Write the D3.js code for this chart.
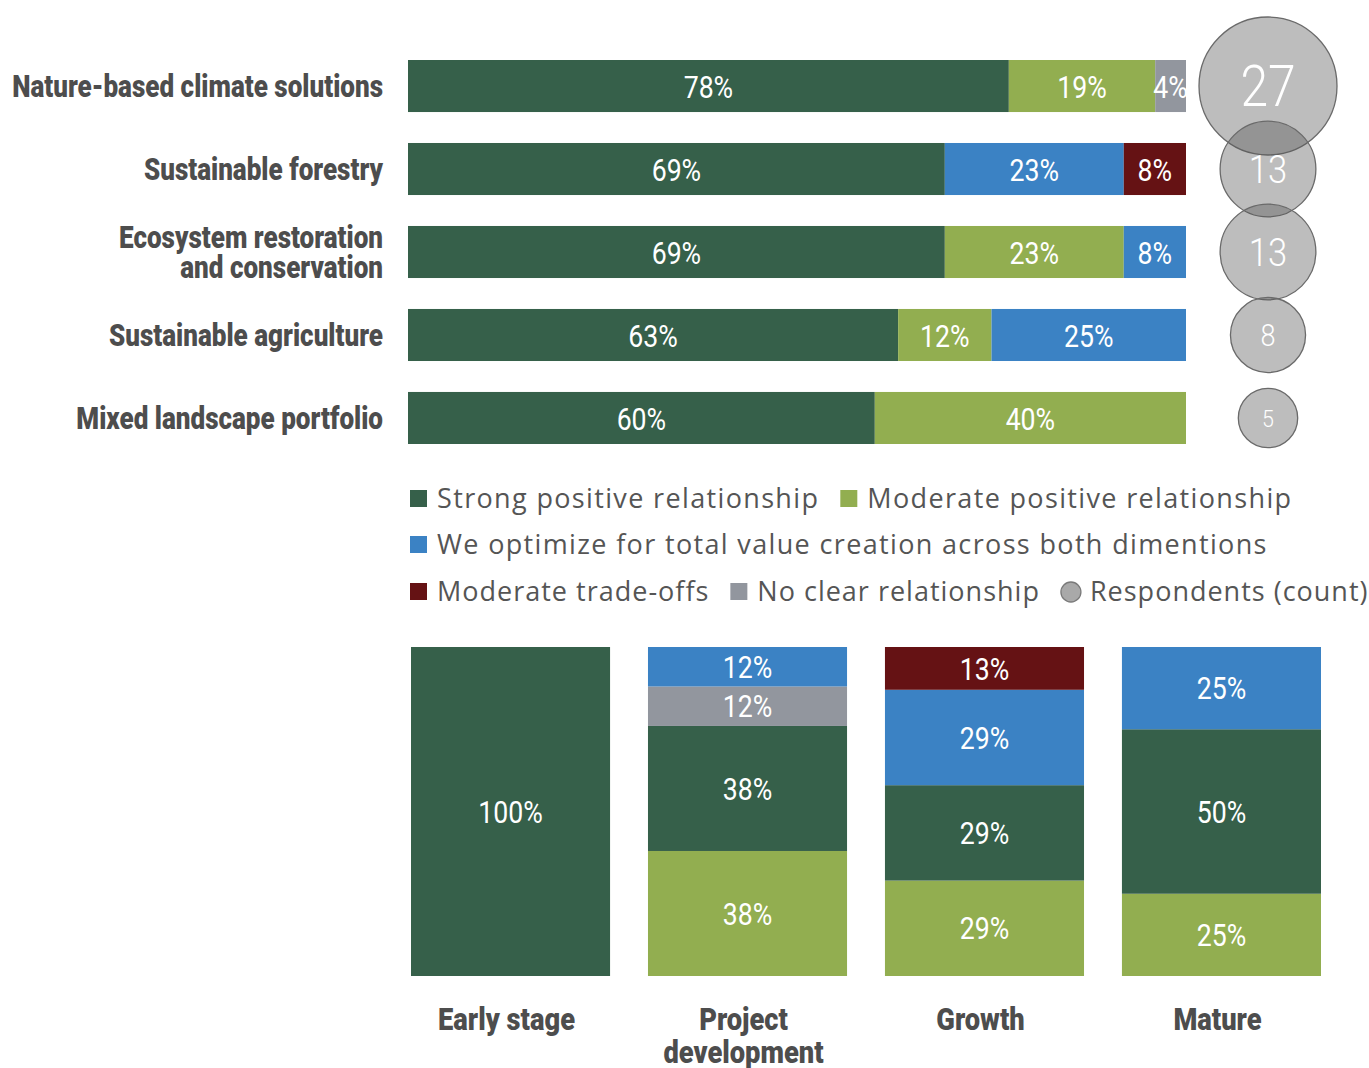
<!DOCTYPE html>
<html><head><meta charset="utf-8">
<script src="https://cdn.jsdelivr.net/npm/d3@7"></script>
<style>body{margin:0;background:#fff}</style>
</head><body>
<svg id="c" width="1369" height="1068"></svg>
<script>
const categories = ["Nature-based climate solutions","Sustainable forestry","Ecosystem restoration\nand conservation","Sustainable agriculture","Mixed landscape portfolio"];
const strong   = [78,69,69,63,60];
const moderate = [19,0,23,12,40];
const optimize = [0,23,8,25,0];
const tradeoff = [0,8,0,0,0];
const noclear  = [4,0,0,0,0];
const respondents = [27,13,13,8,5];

const stages = ["Early stage","Project\ndevelopment","Growth","Mature"];
const stageStrong   = [100,38,29,50];
const stageModerate = [0,38,29,25];
const stageOptimize = [0,12,29,25];
const stageTradeoff = [0,0,13,0];
const stageNoclear  = [0,12,0,0];

const seriesNames = {strong:"Strong positive relationship",moderate:"Moderate positive relationship",optimize:"We optimize for total value creation across both dimentions",tradeoff:"Moderate trade-offs",noclear:"No clear relationship"};
const colors = {strong:"#36604a",moderate:"#92ae50",optimize:"#3b82c4",tradeoff:"#651214",noclear:"#92969e"};

const svg = d3.select("#c");
const labelFont = "Roboto, 'Noto Sans', sans-serif";
const textGray = "#4d4d4d";

function condense(node, f){
  const tsp = node.querySelectorAll("tspan");
  const targets = tsp.length ? Array.from(tsp) : [node];
  targets.forEach(n=>{
    const L = n.getComputedTextLength();
    n.setAttribute("textLength", L*f);
    n.setAttribute("lengthAdjust","spacingAndGlyphs");
  });
}

// ---------- top chart ----------
const topRows = categories.map((c,i)=>({cat:c,strong:strong[i],moderate:moderate[i],optimize:optimize[i],tradeoff:tradeoff[i],noclear:noclear[i],n:respondents[i]}));
const topKeys = ["strong","moderate","optimize","tradeoff","noclear"];
topRows.forEach(r=>{const s=d3.sum(topKeys,k=>r[k]); topKeys.forEach(k=>r["n_"+k]=r[k]/s*100);});
const y = d3.scaleBand().domain(categories).range([60,444]).paddingInner(0.373);
const x = d3.scaleLinear().domain([0,100]).range([408,1186]);
const stackTop = d3.stack().keys(topKeys.map(k=>"n_"+k))(topRows);

stackTop.forEach((layer,li)=>{
  const key = topKeys[li];
  const g = svg.append("g");
  layer.forEach((d,i)=>{
    const val = topRows[i][key];
    if(!val) return;
    g.append("rect").attr("x",x(d[0])).attr("y",y(categories[i])).attr("width",x(d[1])-x(d[0])).attr("height",y.bandwidth()).attr("fill",colors[key]);
    const t = g.append("text").attr("x",(x(d[0])+x(d[1]))/2).attr("y",y(categories[i])+y.bandwidth()/2+1).attr("dy","0.36em")
      .attr("text-anchor","middle").attr("fill","#fff").attr("font-family",labelFont).attr("font-size",31).text(val+"%");
    condense(t.node(),0.86);
  });
});

// category labels
categories.forEach(c=>{
  const lines = c.split("\n");
  const cy = y(c)+y.bandwidth()/2;
  const t = svg.append("text").attr("text-anchor","end").attr("fill",textGray).attr("font-family",labelFont)
    .attr("font-weight",900).attr("font-size",31);
  lines.forEach((l,j)=>{
    t.append("tspan").attr("x",383).attr("y",cy+(j-(lines.length-1)/2)*30).attr("dy","0.36em").text(l);
  });
  condense(t.node(),0.84);
});

// circles
const r = d3.scaleSqrt().domain([0,27]).range([0,69]);
const cg = svg.append("g");
topRows.forEach(d=>{
  cg.append("circle").attr("cx",1268).attr("cy",y(d.cat)+y.bandwidth()/2).attr("r",r(d.n))
    .attr("fill","#565656").attr("fill-opacity",0.39).attr("stroke","#6a6a6a").attr("stroke-width",1.3);
});
topRows.forEach(d=>{
  const t = cg.append("text").attr("x",1268).attr("y",y(d.cat)+y.bandwidth()/2).attr("dy","0.36em").attr("text-anchor","middle")
    .attr("fill","#fff").attr("font-family",labelFont).attr("font-weight",300).attr("font-size",r(d.n)*0.82).text(d.n);
  condense(t.node(),0.88);
});

// ---------- legend ----------
const legFont = "'Open Sans','Noto Sans',sans-serif";
const legRows = [[{k:"strong"},{k:"moderate"}],[{k:"optimize"}],[{k:"tradeoff"},{k:"noclear"},{k:"resp"}]];
const legY = [498,544,591];
const legSpacing = [1.35,1.35,1.0];
legRows.forEach((row,ri)=>{
  let cx = 410;
  row.forEach(item=>{
    if(item.k==="resp"){
      svg.append("circle").attr("cx",cx+10).attr("cy",legY[ri]+1).attr("r",10).attr("fill","#a9a9a9").attr("stroke","#7a7a7a").attr("stroke-width",1.3);
      cx += 20+9;
    } else {
      svg.append("rect").attr("x",cx).attr("y",legY[ri]-8).attr("width",17).attr("height",17).attr("fill",colors[item.k]);
      cx += 17+10;
    }
    const t = svg.append("text").attr("x",cx).attr("y",legY[ri]).attr("dy","0.36em").attr("fill","#555")
      .attr("font-family",legFont).attr("font-size",27).attr("letter-spacing",legSpacing[ri]).text(item.k==="resp"?"Respondents (count)":seriesNames[item.k]);
    cx += t.node().getComputedTextLength()+21;
  });
});

// ---------- bottom chart ----------
const botRows = stages.map((s,i)=>({stage:s,strong:stageStrong[i],moderate:stageModerate[i],optimize:stageOptimize[i],tradeoff:stageTradeoff[i],noclear:stageNoclear[i]}));
const botKeys = ["moderate","strong","noclear","optimize","tradeoff"];
const xb = d3.scaleBand().domain(stages).range([411,1321]).paddingInner(0.16);
const yb = d3.scaleLinear().domain([0,100]).range([976,647]);
const stackBot = d3.stack().keys(botKeys)(botRows);
stackBot.forEach(layer=>{
  const key = layer.key;
  layer.forEach((d,i)=>{
    const val = botRows[i][key];
    if(!val) return;
    svg.append("rect").attr("x",xb(stages[i])).attr("y",yb(d[1])).attr("width",xb.bandwidth()).attr("height",yb(d[0])-yb(d[1])).attr("fill",colors[key]);
    const t = svg.append("text").attr("x",xb(stages[i])+xb.bandwidth()/2).attr("y",(yb(d[0])+yb(d[1]))/2).attr("dy","0.36em")
      .attr("text-anchor","middle").attr("fill","#fff").attr("font-family",labelFont).attr("font-size",31).text(val+"%");
    condense(t.node(),0.86);
  });
});
stages.forEach(s=>{
  const lines = s.split("\n");
  const t = svg.append("text").attr("text-anchor","middle").attr("fill",textGray).attr("font-family",labelFont)
    .attr("font-weight",900).attr("font-size",31);
  lines.forEach((l,j)=>{
    t.append("tspan").attr("x",xb(s)+xb.bandwidth()/2-4).attr("y",1019+j*33).attr("dy","0.36em").text(l);
  });
  condense(t.node(),0.88);
});
</script>
</body></html>
